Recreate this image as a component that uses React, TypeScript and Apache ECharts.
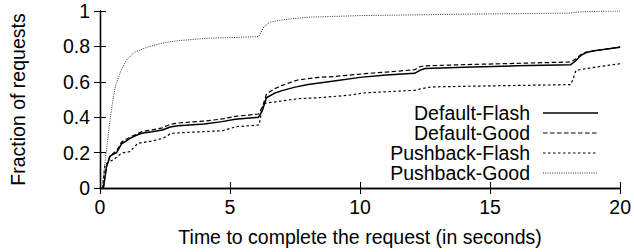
import React, { useEffect, useRef } from "react";
import * as echarts from "echarts";

const xTicks = [0, 5, 10, 15, 20];
const yTicks = [0, 0.2, 0.4, 0.6, 0.8, 1];

const seriesNames = ["Default-Flash", "Default-Good", "Pushback-Flash", "Pushback-Good"];

const dfTime = [0.13, 0.25, 0.38, 0.5, 0.64, 0.83, 1.0, 1.15, 1.4, 1.6, 2.0, 2.4, 2.7, 3.0, 4.0, 4.7, 5.2, 6.1, 6.25, 6.4, 6.7, 7.0, 7.5, 8.0, 9.0, 10.0, 11.0, 12.1, 12.3, 12.5, 14.0, 16.0, 18.1, 18.3, 18.5, 18.7, 19.0, 20.0];
const dfFrac = [0, 0.12, 0.178, 0.19, 0.2, 0.25, 0.265, 0.28, 0.298, 0.309, 0.318, 0.328, 0.345, 0.352, 0.362, 0.375, 0.389, 0.4, 0.44, 0.51, 0.535, 0.55, 0.57, 0.585, 0.605, 0.625, 0.638, 0.648, 0.665, 0.675, 0.682, 0.69, 0.697, 0.72, 0.75, 0.765, 0.775, 0.795];

const dgTime = [0.13, 0.25, 0.38, 0.5, 0.64, 0.83, 1.0, 1.2, 1.6, 2.0, 2.4, 2.7, 3.0, 4.0, 4.7, 5.2, 6.1, 6.25, 6.4, 6.7, 7.0, 7.6, 8.4, 9.0, 10.2, 11.0, 12.1, 12.3, 12.5, 14.0, 16.0, 18.1, 18.3, 18.5, 18.7, 19.0, 20.0];
const dgFrac = [0, 0.12, 0.18, 0.195, 0.21, 0.26, 0.275, 0.29, 0.318, 0.328, 0.34, 0.36, 0.367, 0.378, 0.39, 0.405, 0.418, 0.46, 0.53, 0.56, 0.58, 0.61, 0.625, 0.63, 0.646, 0.655, 0.668, 0.685, 0.69, 0.697, 0.704, 0.712, 0.73, 0.755, 0.768, 0.775, 0.797];

const pfTime = [0.1, 0.19, 0.35, 0.51, 0.83, 1.15, 1.46, 2.0, 2.42, 2.74, 3.5, 4.72, 5.22, 6.12, 6.2, 6.3, 6.76, 7.65, 8.4, 9.56, 10.2, 12.1, 12.4, 12.74, 15.0, 18.1, 18.2, 18.3, 19.1, 20.0];
const pfFrac = [0, 0.131, 0.15, 0.159, 0.197, 0.206, 0.253, 0.265, 0.281, 0.309, 0.315, 0.324, 0.346, 0.356, 0.42, 0.478, 0.487, 0.505, 0.51, 0.524, 0.538, 0.552, 0.562, 0.571, 0.577, 0.584, 0.62, 0.665, 0.684, 0.702];

const pgTime = [0.08, 0.2, 0.3, 0.4, 0.5, 0.6, 0.8, 1.0, 1.3, 1.8, 2.5, 3.0, 4.0, 5.0, 6.1, 6.3, 6.5, 7.0, 8.0, 10.0, 14.0, 18.0, 18.5, 19.0, 20.0];
const pgFrac = [0, 0.15, 0.28, 0.4, 0.5, 0.58, 0.66, 0.72, 0.765, 0.795, 0.822, 0.832, 0.845, 0.85, 0.855, 0.91, 0.935, 0.95, 0.965, 0.974, 0.982, 0.988, 0.995, 0.998, 1.0];

const FONT = "Liberation Sans, Arial, Helvetica, sans-serif";

const zip = (a: number[], b: number[]) => a.map((v, i) => [v, b[i]]);

const lineStyles: any[] = [
  { color: "#000", width: 1.5, type: "solid" },
  { color: "#000", width: 1.2, type: [4.5, 2.5] },
  { color: "#000", width: 1.2, type: [2.5, 2.5] },
  { color: "#333", width: 1, type: [1, 1.3] },
];

export default function App() {
  const ref = useRef<HTMLDivElement>(null);
  useEffect(() => {
    document.body.style.margin = "0";
    const chart = echarts.init(ref.current!, null, { renderer: "svg" });
    const datasets = [zip(dfTime, dfFrac), zip(dgTime, dgFrac), zip(pfTime, pfFrac), zip(pgTime, pgFrac)];
    const axisLine = { show: true, lineStyle: { color: "#000", width: 1.3 } };
    const tick = { show: true, inside: true, length: 6, lineStyle: { color: "#000", width: 1 } };
    const legendX = 530;
    const legendY = [113, 133, 153, 173];
    const graphic: any[] = [];
    seriesNames.forEach((n, i) => {
      graphic.push({
        type: "text",
        x: legendX,
        y: legendY[i],
        style: { text: n, fill: "#000", font: `19.5px ${FONT}`, align: "right", verticalAlign: "middle" },
      });
      graphic.push({
        type: "line",
        shape: { x1: 543, y1: legendY[i], x2: 598, y2: legendY[i] },
        style: { stroke: lineStyles[i].color, lineWidth: lineStyles[i].width, lineDash: lineStyles[i].type === "solid" ? null : lineStyles[i].type },
      });
    });
    chart.setOption({
      animation: false,
      grid: { left: 100, right: 11, top: 11, bottom: 62, containLabel: false },
      xAxis: [
        {
          type: "value", min: xTicks[0], max: xTicks[xTicks.length - 1], interval: 5,
          axisLine, axisTick: tick, splitLine: { show: false },
          axisLabel: { fontFamily: FONT, fontSize: 19.5, color: "#000", margin: 9 },
          name: "Time to complete the request (in seconds)", nameLocation: "middle", nameGap: 39,
          nameTextStyle: { fontFamily: FONT, fontSize: 19.5, color: "#000" },
        },
        {
          type: "value", position: "top", min: 0, max: 20, interval: 5,
          axisLine, axisTick: tick, axisLabel: { show: false }, splitLine: { show: false },
        },
      ],
      yAxis: [
        {
          type: "value", min: yTicks[0], max: yTicks[yTicks.length - 1], interval: 0.2,
          axisLine, axisTick: tick, splitLine: { show: false },
          axisLabel: { fontFamily: FONT, fontSize: 19.5, color: "#000", margin: 10 },
          name: "Fraction of requests", nameLocation: "middle", nameGap: 72,
          nameTextStyle: { fontFamily: FONT, fontSize: 19.5, color: "#000" },
        },
        {
          type: "value", position: "right", min: 0, max: 1, interval: 0.2,
          axisLine, axisTick: tick, axisLabel: { show: false }, splitLine: { show: false },
        },
      ],
      series: seriesNames.map((n, i) => ({
        name: n,
        type: "line",
        xAxisIndex: 0,
        yAxisIndex: 0,
        data: datasets[i],
        showSymbol: false,
        symbol: "none",
        lineStyle: lineStyles[i],
      })),
      graphic,
    });
    return () => chart.dispose();
  }, []);
  return <div ref={ref} style={{ width: 634, height: 252 }} />;
}
